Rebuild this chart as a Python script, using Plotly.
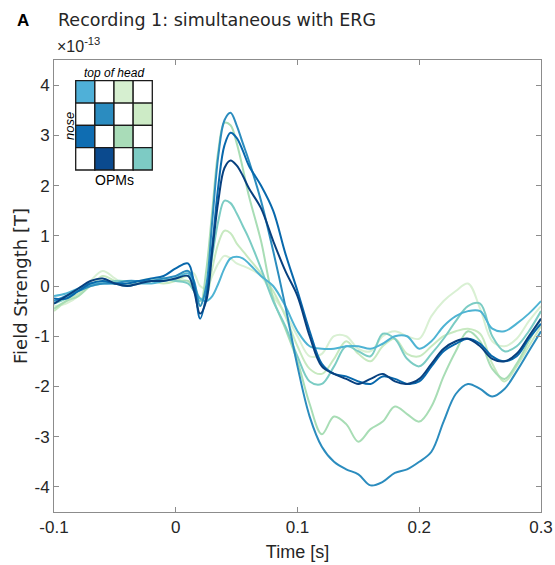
import plotly.graph_objects as go

# ---- data ----
t = [-0.10, -0.09, -0.08, -0.07, -0.06, -0.05, -0.04, -0.03, -0.02, -0.01, 0.00,
     0.01, 0.015, 0.02, 0.025, 0.03, 0.035, 0.04, 0.045, 0.05, 0.055, 0.06,
     0.07, 0.08, 0.09, 0.10, 0.11, 0.12, 0.13, 0.14, 0.15, 0.16, 0.17, 0.18, 0.19,
     0.20, 0.21, 0.22, 0.23, 0.24, 0.25, 0.26, 0.27, 0.28, 0.29, 0.30]

opm_A = [-0.3, -0.2, -0.1, 0.0, 0.05, 0.05, 0.1, 0.1, 0.1, 0.15, 0.2,
         0.3, 0.1, -0.4, 0.0, 1.3, 2.6, 3.3, 3.45, 3.2, 2.85, 2.5,
         1.7, 0.7, -0.4, -1.6, -2.6, -3.2, -3.5, -3.65, -3.75, -3.97, -3.9, -3.72, -3.65,
         -3.5, -3.3, -2.7, -2.15, -1.95, -2.05, -2.2, -2.05, -1.7, -1.3, -0.9]
opm_B = [-0.45, -0.3, -0.2, 0.0, 0.1, 0.05, 0.05, 0.1, 0.1, 0.15, 0.1,
         0.1, -0.1, -0.4, 0.3, 1.5, 2.7, 3.25, 3.2, 2.85, 2.35, 1.8,
         0.9, -0.25, -0.85, -1.5, -2.35, -2.95, -2.6, -2.75, -3.1, -2.85, -2.7, -2.4, -2.55,
         -2.7, -2.4, -1.8, -1.3, -0.9, -1.1, -1.65, -1.85, -1.55, -1.1, -0.65]
opm_C = [-0.25, -0.25, -0.1, 0.05, 0.1, 0.05, 0.05, 0.1, 0.15, 0.2, 0.35,
         0.45, 0.05, -0.65, -0.2, 0.8, 2.0, 2.8, 3.05, 2.95, 2.7, 2.4,
         2.0, 1.5, 0.65, -0.1, -0.9, -1.55, -1.75, -1.8, -1.9, -1.95, -1.8, -1.85, -1.95,
         -1.9, -1.6, -1.3, -1.15, -1.05, -1.15, -1.4, -1.5, -1.4, -1.05, -0.75]
opm_D = [-0.35, -0.2, -0.05, 0.1, 0.15, 0.05, 0.0, 0.05, 0.1, 0.1, 0.15,
         0.2, -0.1, -0.55, -0.3, 0.7, 1.7, 2.35, 2.5, 2.4, 2.2, 1.95,
         1.55, 0.9, 0.3, -0.2, -1.0, -1.6, -1.75, -1.85, -1.95, -1.85, -1.75, -1.9, -1.95,
         -1.85, -1.55, -1.25, -1.1, -1.05, -1.2, -1.45, -1.5, -1.35, -1.0, -0.65]
opm_E = [-0.35, -0.25, -0.1, 0.0, 0.05, 0.1, 0.1, 0.1, 0.1, 0.15, 0.1,
         0.05, -0.1, -0.3, -0.1, 0.6, 1.3, 1.7, 1.65, 1.45, 1.2, 0.95,
         0.35, -0.3, -0.8, -1.4, -1.9, -1.95, -1.6, -1.2, -1.3, -1.4, -0.95, -1.05, -1.45,
         -1.6, -1.35, -1.05, -0.7, -0.4, -0.35, -1.0, -1.3, -1.2, -0.9, -0.5]
opm_F = [-0.5, -0.3, -0.15, 0.0, 0.2, 0.1, 0.0, 0.05, 0.1, 0.05, 0.1,
         0.2, 0.05, -0.25, -0.2, 0.35, 0.85, 1.1, 1.05, 0.85, 0.7, 0.55,
         0.25, -0.1, -0.6, -1.2, -1.65, -1.75, -1.45, -1.1, -1.35, -1.5, -1.2, -1.05, -1.35,
         -1.4, -1.2, -1.0, -0.9, -0.85, -0.95, -1.55, -1.9, -1.6, -1.2, -0.8]
opm_G = [-0.4, -0.35, -0.2, 0.1, 0.3, 0.15, 0.0, 0.1, 0.15, 0.1, 0.15,
         0.3, 0.25, 0.0, -0.05, 0.2, 0.45, 0.6, 0.55, 0.45, 0.4, 0.35,
         0.2, -0.2, -0.55, -1.0, -1.4, -1.35, -1.0, -1.0, -1.25, -1.3, -1.0, -0.9, -1.0,
         -1.05, -0.6, -0.3, -0.1, 0.05, -0.45, -1.1, -1.2, -1.05, -0.7, -0.4]
opm_H = [-0.2, -0.15, -0.05, 0.05, 0.05, 0.05, 0.0, 0.05, 0.05, 0.1, 0.15,
         0.25, 0.0, -0.25, -0.3, -0.2, 0.05, 0.35, 0.55, 0.58, 0.55, 0.45,
         0.2, 0.0, -0.4, -0.9, -1.2, -1.25, -1.25, -1.2, -1.2, -1.25, -1.15, -1.0, -1.0,
         -1.25, -1.1, -0.8, -0.6, -0.5, -0.5, -0.85, -0.9, -0.75, -0.55, -0.3]

series = [opm_G, opm_F, opm_B, opm_E, opm_H, opm_A, opm_C, opm_D]
colors = ["#d9f0d3", "#c7e9c0", "#a8ddb5", "#7bccc4", "#4eb3d3", "#2b8cbe", "#0868ac", "#08407f"]

x_ticks = [-0.1, 0, 0.1, 0.2, 0.3]
x_tick_labels = ["-0.1", "0", "0.1", "0.2", "0.3"]
y_ticks = [-4, -3, -2, -1, 0, 1, 2, 3, 4]
y_tick_labels = ["-4", "-3", "-2", "-1", "0", "1", "2", "3", "4"]

# inset grid of OPM positions (row 0 = top)
grid_colors = [
    ["#4fb0d8", "white", "#d6efd0", "white"],
    ["white", "#2b8cc0", "white", "#cdebc6"],
    ["#0f6db2", "white", "#a9dcb8", "white"],
    ["white", "#0b4a8e", "white", "#7dcbc4"],
]

# ---- figure ----
W, H = 555, 565
# plot box in window pixels: left 54, right 541, top 60, bottom 512
L, T = 54, 60
R = W - 541
B = H - 512
pw, ph = W - L - R, H - T - B


def px(x):  # window pixel -> paper
    return (x - L) / pw


def py(y):
    return (H - B - y) / ph


fig = go.Figure()
for s, c in zip(series, colors):
    fig.add_trace(go.Scatter(x=t, y=s, mode="lines", line=dict(color=c, width=2, shape="spline", smoothing=1.0),
                             showlegend=False, hoverinfo="skip"))

axis_common = dict(showline=True, linecolor="#8c8c8c", linewidth=1, mirror="ticks", ticks="inside",
                   ticklen=5, tickcolor="#8c8c8c", showgrid=False, zeroline=False,
                   tickfont=dict(family="Liberation Sans", size=17, color="#262626"))

fig.update_xaxes(range=[-0.1, 0.3], tickvals=x_ticks, ticktext=x_tick_labels,
                 title=dict(text="Time [s]", font=dict(family="Liberation Sans", size=18, color="#262626"), standoff=8),
                 **axis_common)
fig.update_yaxes(range=[-4.5, 4.5], tickvals=y_ticks, ticktext=y_tick_labels,
                 title=dict(text="Field Strength [T]", font=dict(family="DejaVu Sans", size=18, color="#262626"), standoff=2),
                 **axis_common)

shapes = []
gx0, gy0, gx1, gy1 = 75.7, 80.7, 152.3, 170.0
cw = (gx1 - gx0) / 4
ch = (gy1 - gy0) / 4
for r in range(4):
    for c in range(4):
        shapes.append(dict(type="rect", xref="paper", yref="paper",
                           x0=px(gx0 + c * cw), x1=px(gx0 + (c + 1) * cw),
                           y0=py(gy0 + (r + 1) * ch), y1=py(gy0 + r * ch),
                           fillcolor=grid_colors[r][c], line=dict(color="#1a1a1a", width=1.3),
                           layer="above"))

annotations = [
    dict(text="<b>A</b>", x=px(15), y=py(20), xref="paper", yref="paper", showarrow=False,
         xanchor="left", yanchor="middle", font=dict(family="Liberation Sans", size=17, color="black")),
    dict(text="Recording 1: simultaneous with ERG", x=px(56), y=py(20), xref="paper", yref="paper",
         showarrow=False, xanchor="left", yanchor="middle",
         font=dict(family="DejaVu Sans", size=17.5, color="#262626")),
    dict(text="×10<sup>-13</sup>", x=px(55), y=py(45), xref="paper", yref="paper", showarrow=False,
         xanchor="left", yanchor="middle", font=dict(family="Liberation Sans", size=16, color="#262626")),
    dict(text="<i>top of head</i>", x=px(114), y=py(73), xref="paper", yref="paper", showarrow=False,
         xanchor="center", yanchor="middle", font=dict(family="Liberation Sans", size=12, color="black")),
    dict(text="<i>nose</i>", x=px(69), y=py(126), xref="paper", yref="paper", showarrow=False,
         xanchor="center", yanchor="middle", textangle=-90,
         font=dict(family="Liberation Sans", size=13, color="black")),
    dict(text="OPMs", x=px(114), y=py(180), xref="paper", yref="paper", showarrow=False,
         xanchor="center", yanchor="middle", font=dict(family="Liberation Sans", size=14, color="black")),
]

fig.update_layout(width=W, height=H, margin=dict(l=L, r=R, t=T, b=B, autoexpand=False),
                  paper_bgcolor="white", plot_bgcolor="white", shapes=shapes, annotations=annotations)

fig.write_html("out.html", config={"displayModeBar": False},
               post_script="document.body.style.margin='0';document.body.style.overflow='hidden';")
